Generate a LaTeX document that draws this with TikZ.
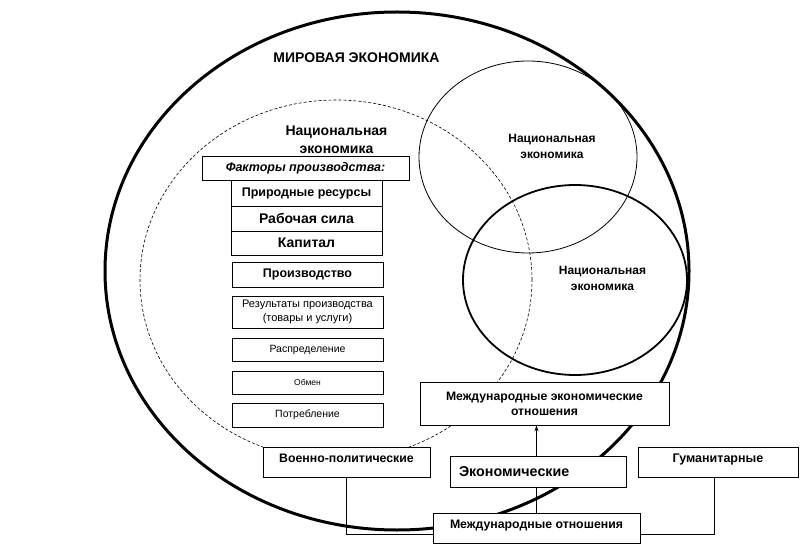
\documentclass[tikz,border=0pt]{standalone}
\usepackage{fontspec}
\setmainfont{Liberation Sans}
\usetikzlibrary{backgrounds,arrows.meta}
\begin{document}
\begin{tikzpicture}[x=1pt,y=-1pt,
  box/.style={draw, fill=white, line width=0.8pt, inner sep=1pt, align=center},
  bigtxt/.style={font=\fontsize{14}{16}\selectfont\bfseries},
  midtxt/.style={font=\fontsize{12.3}{15}\selectfont\bfseries},
  smalltxt/.style={font=\fontsize{10.5}{13}\selectfont},
  raised/.style={text height=8.5pt, text depth=8.5pt},
  conn/.style={line width=0.8pt}]
\useasboundingbox (0,0) rectangle (800,553);
% ellipses
\draw[line width=3pt] (397,271) ellipse [x radius=292pt, y radius=259pt];
\draw[line width=0.6pt, dash pattern=on 3pt off 2pt] (336,280) ellipse [x radius=196pt, y radius=180pt];
\draw[line width=0.8pt] (528,157) ellipse [x radius=109pt, y radius=96pt];
\draw[line width=1.8pt] (575,280) ellipse [x radius=112pt, y radius=95pt];
% labels
\node[font=\fontsize{14}{16}\selectfont\bfseries] (world) at (356.5,58) {МИРОВАЯ ЭКОНОМИКА};
\node[align=center, font=\fontsize{14}{18}\selectfont\bfseries] (ne1) at (336.5,140) {Национальная\\экономика};
\node[align=center, font=\fontsize{12}{15.5}\selectfont\bfseries] (ne2) at (552,146.5) {Национальная\\экономика};
\node[align=center, font=\fontsize{12}{15.5}\selectfont\bfseries] (ne3) at (602.5,278.5) {Национальная\\экономика};
% left column
\node[box, minimum width=207pt, minimum height=24pt, font=\fontsize{12.5}{14}\selectfont\bfseries\itshape] (fak) at (305.5,168) {Факторы производства:};
\node[box, minimum width=151pt, minimum height=26pt, font=\fontsize{12.5}{14}\selectfont\bfseries] (prir) at (306.5,193) {Природные ресурсы};
\node[box, minimum width=151pt, minimum height=25pt, bigtxt] (rab) at (306.5,218.5) {Рабочая сила};
\node[box, minimum width=151pt, minimum height=24pt, bigtxt] (kap) at (306.5,243) {Капитал};
\node[box, minimum width=151pt, minimum height=25pt, font=\fontsize{12.5}{14}\selectfont\bfseries] (proizv) at (307.5,274.5) {Производство};
\node[box, minimum width=151pt, minimum height=32pt, font=\fontsize{11}{14}\selectfont] (rez) at (307.5,312) {Результаты производства\\(товары и услуги)};
\node[box, minimum width=151pt, minimum height=23pt, smalltxt] (rasp) at (307.5,349.5) {Распределение};
\node[box, minimum width=151pt, minimum height=23pt, font=\fontsize{8.5}{11}\selectfont] (obm) at (307.5,382.5) {Обмен};
\node[box, minimum width=151pt, minimum height=24pt, smalltxt] (potr) at (307.5,415) {Потребление};
% relations
\node[box, minimum width=249pt, minimum height=43pt, font=\fontsize{12.2}{15}\selectfont\bfseries] (meo) at (544.5,403.5) {Международные экономические\\отношения};
\node[box, minimum width=167pt, minimum height=30pt, midtxt, raised] (vp) at (346.5,462) {Военно-политические};
\node[box, minimum width=176pt, minimum height=31pt, inner xsep=9pt, text width=158pt, align=left, font=\fontsize{14.3}{16}\selectfont\bfseries] (econ) at (538,471.5) {Экономические};
\node[box, minimum width=160pt, minimum height=30pt, font=\fontsize{12.5}{15}\selectfont\bfseries, raised] (gum) at (718,462) {Гуманитарные};
\node[box, minimum width=207pt, minimum height=30pt, midtxt, raised] (mo) at (536.5,528) {Международные отношения};
% connectors
\begin{pgfonlayer}{background}
\draw[conn, -{Stealth[length=6pt,width=4pt]}] (mo.north) -- (mo.north |- meo.south);
\draw[conn] (vp.south) |- ([yshift=-6pt]mo.west);
\draw[conn] ([xshift=-4pt]gum.south) |- ([yshift=-6pt]mo.east);
\end{pgfonlayer}
\end{tikzpicture}
\end{document}
